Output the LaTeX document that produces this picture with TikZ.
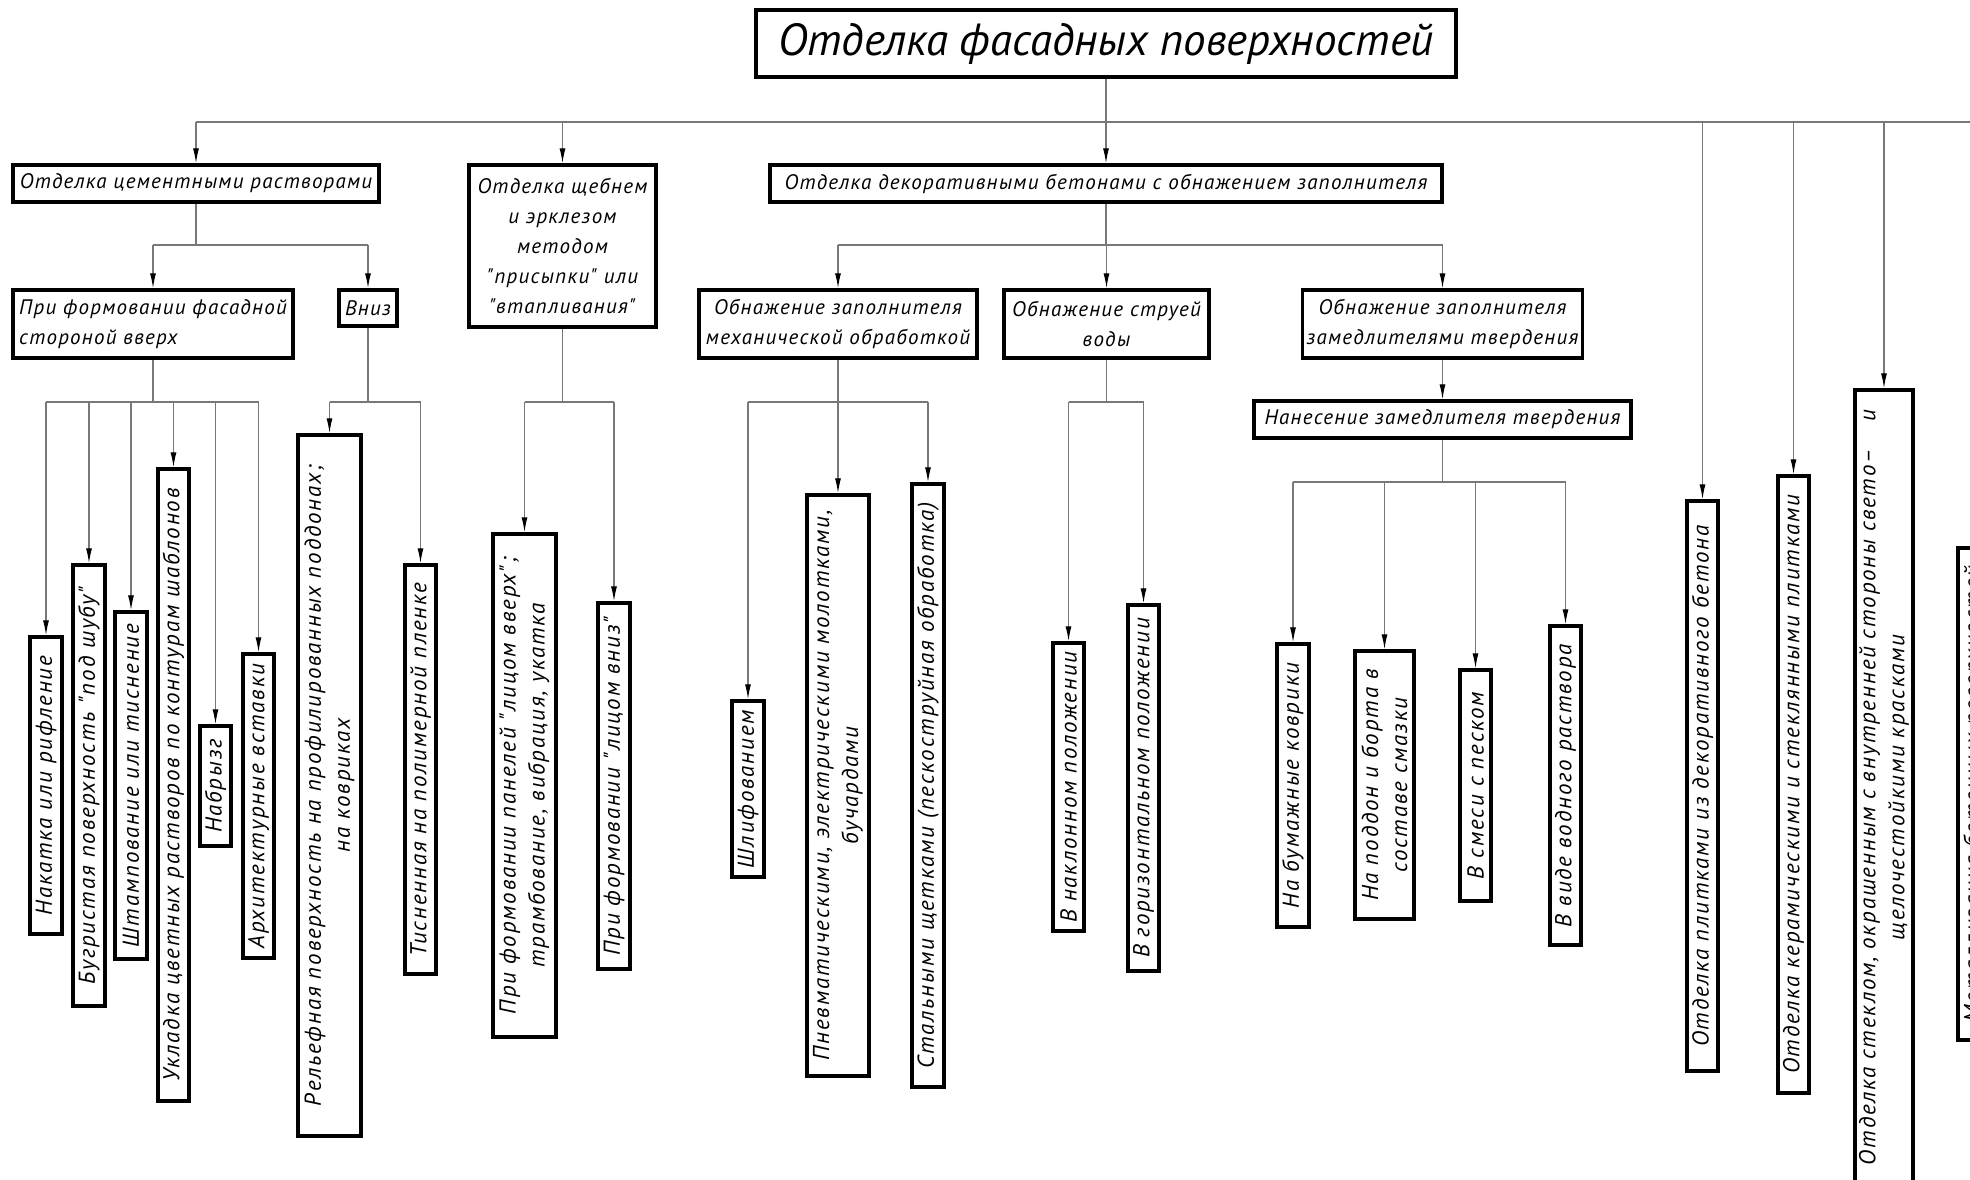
\documentclass[tikz,border=0pt]{standalone}
\usepackage{fontspec}
\setmainfont{PT Sans}
\newfontfamily\gostfont{PT Sans}[LetterSpace=8]
\newfontfamily\gostfontB{PT Sans}[LetterSpace=6]
\newfontfamily\titlefont{PT Sans}
\usetikzlibrary{arrows.meta}
\definecolor{linegray}{RGB}{120,120,120}
\begin{document}
\begin{tikzpicture}[x=1pt,y=-1pt,
  box/.style={draw=black, line width=3.4pt, inner sep=4pt, fill=white,
    font=\gostfontB\itshape\fontsize{21}{30}\selectfont, align=center},
  leaf/.style={box, rotate=90, font=\gostfont\itshape\fontsize{23}{29}\selectfont},
  ln/.style={draw=linegray, line width=1.2pt},
  arr/.style={ln, -{Latex[length=15pt,width=6pt,color=black]}},
]
\useasboundingbox (0,0) rectangle (1970,1179);
\fill[white] (0,0) rectangle (1970,1179);
\clip (0,0) rectangle (1970,1179);

\coordinate (barTop) at (0,122);
\coordinate (barB) at (0,245);
\coordinate (barC) at (0,402);
\coordinate (barD) at (0,482);
\coordinate (edgeR) at (2000,122);

% title and first level
\node[box, font=\titlefont\itshape\fontsize{45}{52}\selectfont, minimum width=700pt, minimum height=67pt] (title) at (1106,43.5) {Отделка фасадных поверхностей};
\node[box, minimum width=366pt, minimum height=37pt] (cement) at (196,183.5) {Отделка цементными растворами};
\node[box, minimum width=187pt, minimum height=162pt] (sheb) at (562.5,246) {Отделка щебнем\\и эрклезом\\методом\\"присыпки" или\\"втапливания"};
\node[box, minimum width=672pt, minimum height=37pt] (decor) at (1106,183.5) {Отделка декоративными бетонами с обнажением заполнителя};

% second level
\node[box, align=left, minimum width=280pt, minimum height=68pt] (prif) at (153,324) {При формовании фасадной\\стороной вверх};
\node[box, minimum width=58pt, minimum height=36pt] (vniz) at (368,308) {Вниз};
\node[box, minimum width=278pt, minimum height=68pt] (mech) at (838,324) {Обнажение заполнителя\\механической обработкой};
\node[box, minimum width=205pt, minimum height=68pt] (water) at (1106.5,324) {Обнажение струей\\воды};
\node[box, minimum width=279pt, minimum height=68pt] (retard) at (1442.5,324) {Обнажение заполнителя\\замедлителями твердения};
\node[box, minimum width=377pt, minimum height=37pt] (nanes) at (1442.5,419.5) {Нанесение замедлителя твердения};

% leaves
\node[leaf, minimum width=297pt, minimum height=32pt] (nak) at (46,785.5) {Накатка или рифление};
\node[leaf, minimum width=441pt, minimum height=32pt] (bug) at (89,785.5) {Бугристая поверхность "под шубу"};
\node[leaf, minimum width=347pt, minimum height=32pt] (sht) at (131,785.5) {Штампование или тиснение};
\node[leaf, minimum width=632pt, minimum height=31pt] (ukl) at (173.5,785) {Укладка цветных растворов по контурам шаблонов};
\node[leaf, minimum width=120pt, minimum height=31pt] (nab) at (215.5,786) {Набрызг};
\node[leaf, minimum width=304pt, minimum height=31pt] (arch) at (258.5,806) {Архитектурные вставки};
\node[leaf, minimum width=701pt, minimum height=63pt] (rel) at (329.5,785.5) {Рельефная поверхность на профилированных поддонах;\\на ковриках};
\node[leaf, minimum width=409pt, minimum height=31pt] (tis) at (420.5,769.5) {Тисненная на полимерной пленке};
\node[leaf, minimum width=503pt, minimum height=63pt] (pan) at (524.5,785.5) {При формовании панелей "лицом вверх";\\трамбование, вибрация, укатка};
\node[leaf, minimum width=366pt, minimum height=32pt] (lvn) at (614,786) {При формовании "лицом вниз"};
\node[leaf, minimum width=176pt, minimum height=32pt] (shl) at (748,789) {Шлифованием};
\node[leaf, minimum width=581pt, minimum height=62pt] (pnev) at (838,785.5) {Пневматическими, электрическими молотками,\\бучардами};
\node[leaf, minimum width=603pt, minimum height=32pt] (stal) at (928,785.5) {Стальными щетками (пескоструйная обработка)};
\node[leaf, minimum width=288pt, minimum height=31pt] (nakl) at (1068.5,787) {В наклонном положении};
\node[leaf, minimum width=366pt, minimum height=31pt] (gor) at (1143.5,788) {В горизонтальном положении};
\node[leaf, minimum width=283pt, minimum height=32pt] (bum) at (1293,785.5) {На бумажные коврики};
\node[leaf, minimum width=268pt, minimum height=59pt] (podd) at (1384.5,785) {На поддон и борта в\\составе смазки};
\node[leaf, minimum width=231pt, minimum height=31pt] (smes) at (1475.5,785.5) {В смеси с песком};
\node[leaf, minimum width=319pt, minimum height=31pt] (vod) at (1565.5,785.5) {В виде водного раствора};
\node[leaf, minimum width=570pt, minimum height=31pt] (plit) at (1702.5,786) {Отделка плитками из декоративного бетона};
\node[leaf, minimum width=617pt, minimum height=31pt] (ker) at (1793.5,784.5) {Отделка керамическими и стеклянными плитками};
\node[leaf, text width=755pt, minimum width=795pt, minimum height=56pt] (stek) at (1884,787.5) {Отделка стеклом, окрашенным с внутренней стороны свето–\hfill и\\щелочестойкими красками};
\node[leaf, minimum width=492pt, minimum height=32pt] (met) at (1974,794) {Металлизация бетонных поверхностей};

% top level connectors
\draw[ln] (title.south) -- (title.south |- barTop);
\draw[ln] (cement.north |- barTop) -- (edgeR);
\foreach \n in {cement,sheb,decor} \draw[arr] (\n.north |- barTop) -- (\n.north);
\foreach \n in {plit,ker,stek,met} \draw[arr] (\n.east |- barTop) -- (\n.east);

% cement branch
\draw[ln] (cement.south) -- (cement.south |- barB);
\draw[ln] (prif.north |- barB) -- (vniz.north |- barB);
\foreach \n in {prif,vniz} \draw[arr] (\n.north |- barB) -- (\n.north);

% decor branch
\draw[ln] (decor.south) -- (decor.south |- barB);
\draw[ln] (mech.north |- barB) -- (retard.north |- barB);
\foreach \n in {mech,water,retard} \draw[arr] (\n.north |- barB) -- (\n.north);
\draw[arr] (retard.south) -- (nanes.north);

% leaf groups
\draw[ln] (prif.south) -- (prif.south |- barC);
\draw[ln] (nak.east |- barC) -- (arch.east |- barC);
\foreach \n in {nak,bug,sht,ukl,nab,arch} \draw[arr] (\n.east |- barC) -- (\n.east);

\draw[ln] (vniz.south) -- (vniz.south |- barC);
\draw[ln] (rel.east |- barC) -- (tis.east |- barC);
\foreach \n in {rel,tis} \draw[arr] (\n.east |- barC) -- (\n.east);

\draw[ln] (sheb.south) -- (sheb.south |- barC);
\draw[ln] (pan.east |- barC) -- (lvn.east |- barC);
\foreach \n in {pan,lvn} \draw[arr] (\n.east |- barC) -- (\n.east);

\draw[ln] (mech.south) -- (mech.south |- barC);
\draw[ln] (shl.east |- barC) -- (stal.east |- barC);
\foreach \n in {shl,pnev,stal} \draw[arr] (\n.east |- barC) -- (\n.east);

\draw[ln] (water.south) -- (water.south |- barC);
\draw[ln] (nakl.east |- barC) -- (gor.east |- barC);
\foreach \n in {nakl,gor} \draw[arr] (\n.east |- barC) -- (\n.east);

\draw[ln] (nanes.south) -- (nanes.south |- barD);
\draw[ln] (bum.east |- barD) -- (vod.east |- barD);
\foreach \n in {bum,podd,smes,vod} \draw[arr] (\n.east |- barD) -- (\n.east);
\end{tikzpicture}
\end{document}
